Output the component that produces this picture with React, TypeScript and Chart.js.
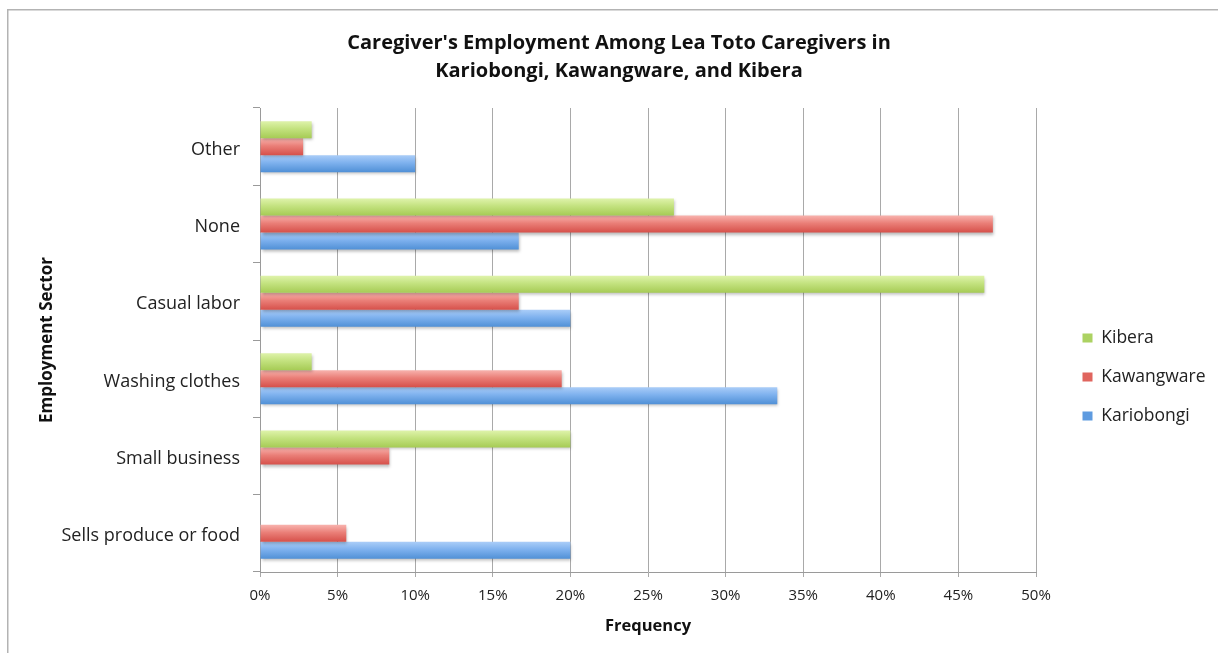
import React, { useEffect, useRef } from 'react';
import { Chart, registerables } from 'chart.js';

Chart.register(...registerables);

const CATEGORIES = ['Other', 'None', 'Casual labor', 'Washing clothes', 'Small business', 'Sells produce or food'];
const SERIES_NAMES = ['Kibera', 'Kawangware', 'Kariobongi'];
const KIBERA = [3.33, 26.67, 46.67, 3.33, 20, 0];
const KAWANGWARE = [2.78, 47.22, 16.67, 19.44, 8.33, 5.56];
const KARIOBONGI = [10, 16.67, 20, 33.33, 0, 20];
const X_MIN = 0;
const X_MAX = 50;
const X_STEP = 5;
const TITLE_LINES = ["Caregiver's Employment Among Lea Toto Caregivers in", 'Kariobongi, Kawangware, and Kibera'];
const X_TITLE = 'Frequency';
const Y_TITLE = 'Employment Sector';

const SOLID = ['#acd262', '#e0655e', '#5e9be0'];
const GRADS = [
  ['#dff3ab', '#c3e27f', '#a6cb55'],
  ['#f8b3ae', '#ea7f78', '#d6504a'],
  ['#aacdf8', '#7eb1ee', '#5090d6'],
];

const FONT = '"Open Sans", "DejaVu Sans", sans-serif';
const W = 1218;
const H = 653;
const CAT_PCT = 0.66;

function barFill(idx: number) {
  return (c: any) => {
    const chart = c.chart;
    const ys = chart.scales && chart.scales.y;
    if (!ys || c.type !== 'data' || c.dataIndex === undefined) return SOLID[idx];
    const center = ys.getPixelForValue(c.dataIndex);
    const cat = Math.abs(ys.getPixelForValue(1) - ys.getPixelForValue(0));
    if (!isFinite(center) || !isFinite(cat) || cat <= 0) return SOLID[idx];
    const group = cat * CAT_PCT;
    const bh = group / 3;
    const top = center - group / 2 + idx * bh;
    const g = chart.ctx.createLinearGradient(0, top, 0, top + bh);
    g.addColorStop(0, GRADS[idx][0]);
    g.addColorStop(0.45, GRADS[idx][1]);
    g.addColorStop(1, GRADS[idx][2]);
    return g;
  };
}

const decorPlugin = {
  id: 'decor',
  beforeInit(chart: any) {
    const lg = chart.legend;
    if (lg && !lg.__patched) {
      const orig = lg.fit;
      lg.fit = function () {
        orig.call(this);
        this.width = 182;
      };
      lg.__patched = true;
    }
  },
  beforeDraw(chart: any) {
    const ctx = chart.ctx;
    ctx.save();
    ctx.fillStyle = '#b3b3b3';
    ctx.fillRect(7, 9, W - 7, 1.5);
    ctx.fillRect(7, 9, 1.5, H - 9);
    ctx.restore();
    const lg = chart.legend;
    if (lg) {
      const h = lg.height;
      lg.left = 1061;
      lg.right = 1061 + lg.width;
      lg.top = 377 - h / 2;
      lg.bottom = 377 + h / 2;
    }
  },
  beforeDatasetsDraw(chart: any) {
    const ctx = chart.ctx;
    ctx.save();
    ctx.shadowColor = 'rgba(0,0,0,0.28)';
    ctx.shadowBlur = 3;
    ctx.shadowOffsetX = 1;
    ctx.shadowOffsetY = 2;
  },
  afterDatasetsDraw(chart: any) {
    chart.ctx.restore();
  },
};

export default function App() {
  const ref = useRef<HTMLCanvasElement | null>(null);

  useEffect(() => {
    if (!ref.current) return;
    const seriesData = [KIBERA, KAWANGWARE, KARIOBONGI];
    const chart = new Chart(ref.current, {
      type: 'bar',
      data: {
        labels: CATEGORIES,
        datasets: SERIES_NAMES.map((name, i) => ({
          label: name,
          data: seriesData[i],
          backgroundColor: barFill(i),
          borderWidth: 0,
          categoryPercentage: CAT_PCT,
          barPercentage: 1,
        })),
      },
      options: {
        indexAxis: 'y',
        responsive: false,
        animation: false,
        devicePixelRatio: 1,
        layout: { padding: { left: 20, top: 12, right: 0, bottom: 0 } },
        scales: {
          x: {
            min: X_MIN,
            max: X_MAX,
            ticks: {
              stepSize: X_STEP,
              callback: (v: any) => `${v}%`,
              font: { family: FONT, size: 15 },
              color: '#222',
              padding: 10,
              maxRotation: 0,
            },
            grid: { color: '#a9a9a9', lineWidth: 1, tickLength: 5, drawTicks: true },
            border: { color: '#9a9a9a' },
            title: {
              display: true,
              text: X_TITLE,
              font: { family: FONT, size: 16.5, weight: 'bold' },
              color: '#111',
              padding: { top: 0, bottom: 17 },
            },
            afterFit: (s: any) => {
              s.height = 81;
            },
          },
          y: {
            ticks: { font: { family: FONT, size: 18 }, color: '#222', padding: 13, labelOffset: 3 },
            grid: { drawOnChartArea: false, tickLength: 7, color: '#9a9a9a', offset: true },
            border: { color: '#9a9a9a' },
            title: {
              display: true,
              text: Y_TITLE,
              font: { family: FONT, size: 17, weight: 'bold' },
              color: '#111',
              padding: { top: 17, bottom: 0 },
            },
            afterFit: (s: any) => {
              s.width = 240;
            },
          },
        },
        plugins: {
          title: {
            display: true,
            text: TITLE_LINES,
            font: { family: FONT, size: 20, weight: 'bold', lineHeight: 1.425 },
            color: '#111',
            padding: { top: 17, bottom: 22 },
          },
          legend: {
            position: 'right',
            labels: {
              font: { family: FONT, size: 17.5 },
              color: '#222',
              boxWidth: 10,
              boxHeight: 9,
              padding: 21.5,
              generateLabels: (ch: any) =>
                Chart.defaults.plugins.legend.labels.generateLabels(ch).map((l: any) => ({
                  ...l,
                  fillStyle: SOLID[l.datasetIndex],
                  strokeStyle: 'rgba(0,0,0,0)',
                  lineWidth: 0,
                })),
            },
          },
          tooltip: { enabled: false },
        },
      },
      plugins: [decorPlugin],
    } as any);
    return () => chart.destroy();
  }, []);

  return (
    <canvas
      ref={ref}
      width={W}
      height={H}
      style={{ position: 'fixed', left: 0, top: 0, width: W, height: H, display: 'block' }}
    />
  );
}
